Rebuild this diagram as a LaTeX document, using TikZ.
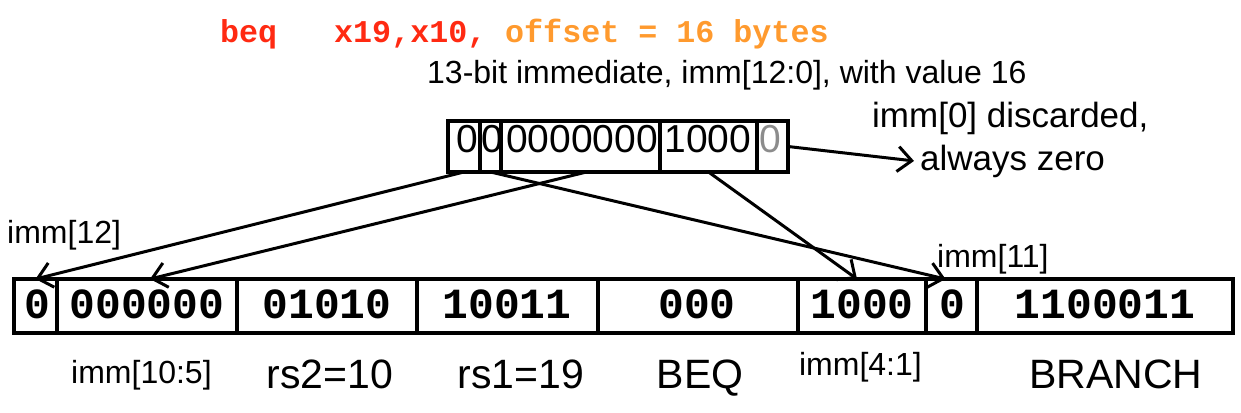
\documentclass[tikz,border=0pt]{standalone}
\usepackage{fontspec}
\setmainfont{Liberation Sans}
\newfontfamily\monofont{Liberation Mono}
\usetikzlibrary{arrows.meta,calc}
\definecolor{codered}{HTML}{FF2A12}
\definecolor{codeorange}{HTML}{FF9A2E}
\definecolor{discard}{HTML}{8C8C8C}
\tikzset{
 cell/.style={draw, line width=3.2pt, inner sep=0pt, outer sep=0pt},
 code/.style={anchor=base west, inner sep=0pt, font=\monofont\bfseries\fontsize{31.7}{36}\selectfont},
 topbit/.style={anchor=base, inner sep=0pt, font=\fontsize{39}{42}\selectfont},
 botbit/.style={anchor=base, inner sep=0pt, font=\monofont\bfseries\fontsize{43}{48}\selectfont},
 small/.style={inner sep=0pt, font=\fontsize{32}{36}\selectfont},
 mid/.style={inner sep=0pt, font=\fontsize{35}{40}\selectfont},
 big/.style={anchor=base, inner sep=0pt, font=\fontsize{41}{46}\selectfont},
 arr/.style={line width=3pt, -{Straight Barb[length=14pt,width=25pt]}},
}
\begin{document}
\begin{tikzpicture}[x=1pt,y=-1pt]
\useasboundingbox (0,0) rectangle (1241,412);
% assembly line
\node[code, text=codered] (op) at (220,42) {beq};
\node[code, text=codered] (regs) at (334,42) {x19,x10,};
\node[code, text=codeorange] (off) at (505,42) {offset = 16 bytes};
\node[small, anchor=base west] (imm13) at (427,83) {13-bit immediate, imm[12:0], with value 16};
% immediate box
\node[cell, minimum width=32, minimum height=51] (t1) at (464,146.5) {};
\node[cell, minimum width=21, minimum height=51] (t2) at (490.5,146.5) {};
\node[cell, minimum width=159, minimum height=51] (t3) at (580.5,146.5) {};
\node[cell, minimum width=97, minimum height=51] (t4) at (708.5,146.5) {};
\node[cell, minimum width=31, minimum height=51] (t5) at (772.5,146.5) {};
\node[topbit] (d1) at (467,152) {0};
\node[topbit] (d2) at (492,152) {0};
\node[topbit] (d3) at (582,152) {0000000};
\node[topbit] (d4) at (708,152) {1000};
\node[topbit, text=discard] (d5) at (770,152) {0};
\node[mid, anchor=base west] (disc) at (872,127) {imm[0] discarded,};
\node[mid, anchor=base west] (az) at (920,170) {always zero};
% instruction box
\node[cell, minimum width=43, minimum height=54] (bA) at (35.5,306) {};
\node[cell, minimum width=180, minimum height=54] (bB) at (147,306) {};
\node[cell, minimum width=180, minimum height=54] (bC) at (327,306) {};
\node[cell, minimum width=181, minimum height=54] (bD) at (507.5,306) {};
\node[cell, minimum width=200, minimum height=54] (bE) at (698,306) {};
\node[cell, minimum width=128, minimum height=54] (bF) at (862,306) {};
\node[cell, minimum width=51, minimum height=54] (bG) at (951.5,306) {};
\node[cell, minimum width=256, minimum height=54] (bH) at (1105,306) {};
\node[botbit] (vA) at (37,318) {0};
\node[botbit] (vB) at (147,318) {000000};
\node[botbit] (vC) at (327,318) {01010};
\node[botbit] (vD) at (507,318) {10011};
\node[botbit] (vE) at (697,318) {000};
\node[botbit] (vF) at (862,318) {1000};
\node[botbit] (vG) at (952,318) {0};
\node[botbit] (vH) at (1105,318) {1100011};
% labels
\node[small, anchor=base west] (l12) at (7,243) {imm[12]};
\node[small, anchor=base west] (l105) at (71,383) {imm[10:5]};
\node[big] (lrs2) at (330,388) {rs2=10};
\node[big] (lrs1) at (521,388) {rs1=19};
\node[big] (lbeq) at (700,388) {BEQ};
\node[small, anchor=base east] (l41) at (922,375) {imm[4:1]};
\node[big] (lbr) at (1116,388) {BRANCH};
\node[small, anchor=base west] (l11) at (937,267) {imm[11]};
% connectors
\draw[arr] (t1.south) -- (bA.north);
\draw[arr] ($(t3.south)+(6,0)$) -- ($(bB.north)+(3,0)$);
\draw[arr] (t2.south) -- ($(bG.north)+(-6,0)$);
\draw[arr] (t4.south) -- ($(bF.north)+(-5,0)$);
\draw[arr] (t5.east) -- ([xshift=-6pt]az.west);
\end{tikzpicture}
\end{document}
